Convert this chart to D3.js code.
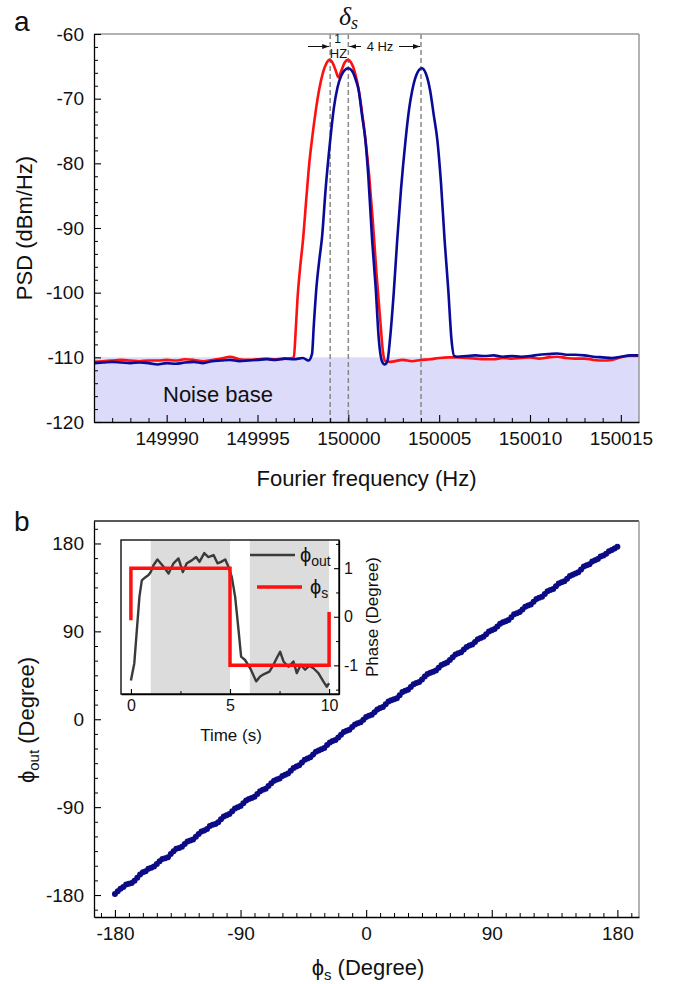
<!DOCTYPE html>
<html><head><meta charset="utf-8">
<script src="https://cdn.jsdelivr.net/npm/d3@7"></script>
<style>
body{margin:0;background:#fff;}
svg{display:block;font-family:"Liberation Sans",Arial,sans-serif;}
</style></head><body>
<svg id="c" width="678" height="984"></svg>
<script>
// ---------------- DATA: panel a ----------------
const freqDomain = [149986, 150016];
const psdDomain = [-120, -60];
const freqTicks = [149990, 149995, 150000, 150005, 150010, 150015];
const psdTicks = [-120, -110, -100, -90, -80, -70, -60];
const noiseLevel = -110;
const markerFreqs = [149999, 150000, 150004];

const redFreq = [149986.0,149986.5,149987.0,149987.5,149988.0,149988.5,149989.0,149989.5,149990.0,149990.5,149991.0,149991.5,149992.0,149992.5,149993.0,149993.5,149994.0,149994.5,149995.0,149995.5,149996.0,149996.5,149996.9,149997.0,149997.1,149997.2,149997.35,149997.5,149997.7,149997.85,149998.0,149998.2,149998.4,149998.6,149998.8,149998.95,149999.1,149999.3,149999.45,149999.6,149999.8,149999.98,150000.15,150000.35,150000.55,150000.75,150000.95,150001.15,150001.35,150001.55,150001.75,150001.9,150002.0,150002.3,150003.0,150003.5,150004.0,150004.5,150005.0,150005.5,150006.0,150006.5,150007.0,150007.5,150008.0,150008.5,150009.0,150009.5,150010.0,150010.5,150011.0,150011.5,150012.0,150012.5,150013.0,150013.5,150014.0,150014.5,150015.0,150015.5,150016.0];
const redPSD = [-110.7,-110.6,-110.5,-110.4,-110.5,-110.6,-110.5,-110.5,-110.4,-110.5,-110.3,-110.4,-110.6,-110.4,-110.2,-109.9,-110.3,-110.4,-110.3,-110.2,-110.3,-110.2,-110.1,-110.0,-106,-101,-96,-92,-85,-80,-76.3,-72,-68.5,-66,-64.5,-64.0,-64.3,-65.6,-66.7,-65.8,-64.4,-64.0,-64.4,-65.8,-68.3,-72,-76.5,-82,-89,-97,-104,-109,-110.5,-110.7,-110.4,-110.6,-110.4,-110.3,-110.1,-110.0,-110.0,-110.1,-110.2,-110.3,-110.3,-110.1,-110.2,-110.1,-110.0,-110.2,-110.0,-109.9,-110.1,-110.2,-110.2,-110.4,-110.5,-110.4,-110.0,-109.8,-109.8];

const blueFreq = [149986.0,149986.5,149987.0,149987.5,149988.0,149988.5,149989.0,149989.5,149990.0,149990.5,149991.0,149991.5,149992.0,149992.5,149993.0,149993.5,149994.0,149994.5,149995.0,149995.5,149996.0,149996.5,149997.0,149997.5,149997.8,149998.0,149998.1,149998.25,149998.4,149998.55,149998.75,149999.0,149999.2,149999.4,149999.6,149999.8,150000.0,150000.2,150000.4,150000.57,150000.75,150000.94,150001.1,150001.31,150001.5,150001.68,150001.85,150002.0,150002.15,150002.3,150002.5,150002.69,150002.9,150003.15,150003.35,150003.52,150003.75,150004.04,150004.25,150004.5,150004.7,150004.9,150005.1,150005.3,150005.5,150005.68,150005.83,150006.0,150006.5,150007.0,150007.5,150008.0,150008.5,150009.0,150009.5,150010.0,150010.5,150011.0,150011.5,150012.0,150012.5,150013.0,150013.5,150014.0,150014.5,150015.0,150015.5,150016.0];
const bluePSD = [-110.9,-110.8,-110.7,-110.8,-110.9,-110.8,-110.9,-111.1,-110.9,-111.0,-110.8,-110.7,-110.9,-110.6,-110.5,-110.4,-110.6,-110.5,-110.4,-110.3,-110.4,-110.2,-110.3,-110.1,-110.5,-109.5,-105,-99,-95,-91.5,-84,-76.5,-71.5,-68.3,-66.5,-65.6,-65.3,-65.7,-67,-68.7,-72.5,-76.4,-82,-91.9,-99,-107.3,-110.6,-111.1,-110.6,-107,-100,-91.9,-84,-76.4,-71.5,-68.7,-66.3,-65.3,-66.0,-68.7,-72.5,-76.4,-83,-91.9,-99.5,-107.3,-109.8,-109.9,-109.8,-109.7,-109.8,-109.7,-109.9,-109.8,-109.9,-109.8,-109.6,-109.5,-109.4,-109.6,-109.6,-109.7,-109.9,-110.0,-110.1,-109.9,-109.7,-109.7];

// ---------------- DATA: panel b ----------------
const phiDomainX = [-195, 195.5];
const phiDomainY = [-202.5, 203];
const phiTicks = [-180, -90, 0, 90, 180];
const phiS = [-180,-178,-176,-174,-172,-170,-168,-166,-164,-162,-160,-158,-156,-154,-152,-150,-148,-146,-144,-142,-140,-138,-136,-134,-132,-130,-128,-126,-124,-122,-120,-118,-116,-114,-112,-110,-108,-106,-104,-102,-100,-98,-96,-94,-92,-90,-88,-86,-84,-82,-80,-78,-76,-74,-72,-70,-68,-66,-64,-62,-60,-58,-56,-54,-52,-50,-48,-46,-44,-42,-40,-38,-36,-34,-32,-30,-28,-26,-24,-22,-20,-18,-16,-14,-12,-10,-8,-6,-4,-2,0,2,4,6,8,10,12,14,16,18,20,22,24,26,28,30,32,34,36,38,40,42,44,46,48,50,52,54,56,58,60,62,64,66,68,70,72,74,76,78,80,82,84,86,88,90,92,94,96,98,100,102,104,106,108,110,112,114,116,118,120,122,124,126,128,130,132,134,136,138,140,142,144,146,148,150,152,154,156,158,160,162,164,166,168,170,172,174,176,178,180];
const phiOut = [-179.0,-176.2,-173.5,-171.8,-169.2,-168.5,-167.8,-165.5,-162.2,-159.1,-156.8,-155.6,-153.2,-152.0,-150.8,-148.2,-145.4,-143.0,-142.4,-141.2,-138.1,-135.3,-132.7,-131.9,-130.6,-127.8,-125.1,-124.2,-123.1,-120.4,-117.5,-115.0,-113.8,-112.5,-109.4,-108.1,-107.2,-105.6,-102.5,-99.6,-98.4,-97.1,-94.2,-91.3,-90.0,-88.8,-86.1,-83.2,-81.6,-80.7,-79.4,-76.5,-73.7,-72.3,-71.1,-68.4,-65.5,-62.9,-61.8,-60.6,-58.0,-56.9,-55.5,-52.7,-49.8,-48.4,-47.2,-44.3,-41.4,-40.1,-38.9,-36.2,-33.4,-32.0,-30.8,-29.4,-26.5,-23.7,-22.4,-21.2,-18.6,-15.8,-13.1,-11.9,-10.7,-8.0,-5.3,-4.2,-3.0,-0.4,2.4,3.5,4.7,7.2,10.1,11.4,12.6,15.3,18.2,19.5,20.4,21.6,24.6,27.8,29.2,30.3,32.9,35.8,37.1,38.2,40.8,43.7,46.4,47.5,48.6,49.8,52.8,55.6,56.9,58.1,60.7,63.6,66.3,67.5,68.6,71.3,74.1,75.4,76.5,79.2,82.0,83.3,84.4,87.1,89.9,91.2,92.3,95.0,97.9,99.2,100.4,101.7,104.5,107.4,108.6,109.8,112.4,115.2,116.5,117.6,120.3,123.1,124.4,125.5,128.2,131.0,132.3,133.4,136.1,138.9,140.2,141.3,143.9,146.7,148.0,149.2,150.5,153.4,156.3,157.6,158.8,161.5,162.7,164.0,166.6,167.8,169.4,172.0,173.3,174.9,176.6];

// inset
const insetTimeDomain = [-0.5, 10.5];
const insetPhaseDomain = [-1.59, 1.58];
const insetTimeTicks = [0, 5, 10];
const insetPhaseTicks = [-1, 0, 1];
const shadeBands = [[1, 5], [6, 10]];
const stepTime = [0, 0, 5, 5, 10, 10];
const stepPhase = [-0.07, 1, 1, -1, -1, 0.1];
const outTime = [0,0.17,0.3,0.43,0.55,0.72,0.89,1.0,1.14,1.34,1.65,1.9,2.15,2.4,2.62,2.82,3.07,3.29,3.46,3.7,3.91,4.17,4.37,4.55,4.76,4.92,5.09,5.26,5.43,5.56,5.76,6.02,6.32,6.52,6.72,6.99,7.19,7.36,7.53,7.7,7.95,8.2,8.37,8.57,8.79,8.99,9.21,9.46,9.71,9.88,10.0];
const outPhase = [-1.31,-0.96,-0.27,0.41,0.75,0.81,0.86,0.92,1.06,1.18,1.03,0.89,1.1,1.2,0.92,1.1,1.16,1.23,1.13,1.31,1.23,1.27,1.1,1.13,1.18,1.03,0.82,0.41,-0.27,-0.82,-0.89,-1.06,-1.33,-1.23,-1.18,-1.13,-0.99,-0.85,-0.72,-0.92,-1.03,-0.92,-1.16,-0.99,-1.09,-1.01,-1.06,-1.16,-1.33,-1.44,-1.37];

// ---------------- DRAW ----------------
const svg = d3.select("#c");
const TXT = "#111";
const RED = "#ff1010", BLUE = "#0a0a9a", NAVY = "#0b0b85";

function styleAxis(g, fs) {
  g.selectAll(".domain").attr("stroke", "#000").attr("stroke-width", 1.3);
  g.selectAll(".tick line").attr("stroke", "#000").attr("stroke-width", 1.1);
  g.selectAll("text").attr("font-size", fs).attr("fill", TXT).attr("font-family", '"Liberation Sans",Arial,sans-serif');
}
function minorAxis(sel, axis) {
  sel.call(axis);
  sel.select(".domain").remove();
  sel.selectAll(".tick line").attr("stroke", "#000").attr("stroke-width", 1);
}

// ===== panel a =====
const L = 94, R = 639, Ta = 34, Ba = 422;
const xA = d3.scaleLinear().domain(freqDomain).range([L, R]);
const yA = d3.scaleLinear().domain(psdDomain).range([Ba, Ta]);

svg.append("clipPath").attr("id", "clipA").append("rect")
  .attr("x", L).attr("y", Ta).attr("width", R - L).attr("height", Ba - Ta);

svg.append("rect").attr("x", xA(freqDomain[0])).attr("y", yA(noiseLevel))
  .attr("width", xA(freqDomain[1]) - xA(freqDomain[0]))
  .attr("height", yA(psdDomain[0]) - yA(noiseLevel)).attr("fill", "#dcdcfa");

svg.append("text").attr("x", 163).attr("y", 402).attr("font-size", 22).attr("fill", TXT).text("Noise base");

svg.append("g").selectAll("line").data(markerFreqs).join("line")
  .attr("x1", d => xA(d)).attr("x2", d => xA(d)).attr("y1", Ta).attr("y2", Ba)
  .attr("stroke", "#888").attr("stroke-width", 1.5).attr("stroke-dasharray", "5,3");

const lineA = d3.line().x(d => xA(d[0])).y(d => yA(d[1])).curve(d3.curveMonotoneX);
const gA = svg.append("g").attr("clip-path", "url(#clipA)");
gA.append("path").datum(redFreq.map((f, i) => [f, redPSD[i]])).attr("d", lineA)
  .attr("fill", "none").attr("stroke", RED).attr("stroke-width", 2.6).attr("stroke-linejoin", "round");
gA.append("path").datum(blueFreq.map((f, i) => [f, bluePSD[i]])).attr("d", lineA)
  .attr("fill", "none").attr("stroke", BLUE).attr("stroke-width", 2.6).attr("stroke-linejoin", "round");

// frame top/right
svg.append("line").attr("x1", L).attr("x2", R).attr("y1", Ta).attr("y2", Ta).attr("stroke", "#999").attr("stroke-width", 1.5);
svg.append("line").attr("x1", R).attr("x2", R).attr("y1", Ta).attr("y2", Ba).attr("stroke", "#999").attr("stroke-width", 1.5);

// minor ticks
minorAxis(svg.append("g").attr("transform", `translate(${L},0)`),
  d3.axisLeft(yA).tickValues(d3.range(-118, -60, 2).filter(v => v % 10 !== 0)).tickSize(-4).tickFormat(""));
minorAxis(svg.append("g").attr("transform", `translate(0,${Ba})`),
  d3.axisBottom(xA).tickValues(d3.range(149987, 150016, 1).filter(v => v % 5 !== 0)).tickSize(-4).tickFormat(""));

const ayA = svg.append("g").attr("transform", `translate(${L},0)`)
  .call(d3.axisLeft(yA).tickValues(psdTicks).tickSize(-7).tickSizeOuter(0).tickPadding(10).tickFormat(d => String(d)));
styleAxis(ayA, 19);
const axA = svg.append("g").attr("transform", `translate(0,${Ba})`)
  .call(d3.axisBottom(xA).tickValues(freqTicks).tickSize(-7).tickSizeOuter(0).tickPadding(10).tickFormat(d => String(d)));
styleAxis(axA, 19);

svg.append("text").attr("transform", "translate(32,228) rotate(-90)").attr("text-anchor", "middle")
  .attr("font-size", 22).attr("fill", TXT).text("PSD (dBm/Hz)");
svg.append("text").attr("x", (L + R) / 2).attr("y", 486).attr("text-anchor", "middle")
  .attr("font-size", 22).attr("fill", TXT).text("Fourier frequency (Hz)");
svg.append("text").attr("x", 14).attr("y", 31).attr("font-size", 28).attr("fill", TXT).text("a");

// annotations
const defs = svg.append("defs");
defs.append("marker").attr("id", "arr").attr("viewBox", "0 0 10 10").attr("refX", 10).attr("refY", 5)
  .attr("markerWidth", 7).attr("markerHeight", 7).attr("orient", "auto-start-reverse")
  .append("path").attr("d", "M0,1.5 L10,5 L0,8.5 Z").attr("fill", "#111");
const ay = 46.5;
svg.append("line").attr("x1", 308).attr("x2", xA(149999) - 1).attr("y1", ay).attr("y2", ay)
  .attr("stroke", "#111").attr("stroke-width", 1).attr("marker-end", "url(#arr)");
svg.append("line").attr("x1", 361).attr("x2", xA(150000) + 1).attr("y1", ay).attr("y2", ay)
  .attr("stroke", "#111").attr("stroke-width", 1).attr("marker-end", "url(#arr)");
svg.append("line").attr("x1", 399).attr("x2", xA(150004) - 1).attr("y1", ay).attr("y2", ay)
  .attr("stroke", "#111").attr("stroke-width", 1).attr("marker-end", "url(#arr)");
svg.append("text").attr("x", 337.5).attr("y", 43).attr("text-anchor", "middle").attr("font-size", 12).attr("fill", TXT).text("1");
svg.append("text").attr("x", 338.5).attr("y", 58).attr("text-anchor", "middle").attr("font-size", 13).attr("fill", TXT).text("HZ");
svg.append("text").attr("x", 380).attr("y", 51).attr("text-anchor", "middle").attr("font-size", 13).attr("fill", TXT).text("4 Hz");
const dl = svg.append("text").attr("x", 339).attr("y", 25).attr("font-family", '"Liberation Serif","Times New Roman",serif')
  .attr("font-style", "italic").attr("font-size", 26).attr("fill", TXT);
dl.append("tspan").text("δ");
dl.append("tspan").attr("font-size", 18).attr("dy", 4).text("s");

// ===== panel b =====
const Tb = 521, Bb = 917;
const xB = d3.scaleLinear().domain(phiDomainX).range([L, R]);
const yB = d3.scaleLinear().domain(phiDomainY).range([Bb, Tb]);

svg.append("g").selectAll("circle").data(phiS.map((s, i) => [s, phiOut[i]])).join("circle")
  .attr("cx", d => xB(d[0])).attr("cy", d => yB(d[1])).attr("r", 3).attr("fill", NAVY);

svg.append("line").attr("x1", L).attr("x2", R).attr("y1", Tb).attr("y2", Tb).attr("stroke", "#222").attr("stroke-width", 1.5);
svg.append("line").attr("x1", R).attr("x2", R).attr("y1", Tb).attr("y2", Bb).attr("stroke", "#999").attr("stroke-width", 1.5);

minorAxis(svg.append("g").attr("transform", `translate(${L},0)`),
  d3.axisLeft(yB).tickValues(d3.range(-195, 200, 15).filter(v => v % 90 !== 0)).tickSize(-4).tickFormat(""));
minorAxis(svg.append("g").attr("transform", `translate(0,${Bb})`),
  d3.axisBottom(xB).tickValues(d3.range(-190, 195, 10).filter(v => v % 90 !== 0)).tickSize(-4).tickFormat(""));
const ayB = svg.append("g").attr("transform", `translate(${L},0)`)
  .call(d3.axisLeft(yB).tickValues(phiTicks).tickSize(-7).tickSizeOuter(0).tickPadding(10).tickFormat(d => String(d)));
styleAxis(ayB, 19);
const axB = svg.append("g").attr("transform", `translate(0,${Bb})`)
  .call(d3.axisBottom(xB).tickValues(phiTicks).tickSize(-7).tickSizeOuter(0).tickPadding(10).tickFormat(d => String(d)));
styleAxis(axB, 19);

const ylb = svg.append("text").attr("transform", "translate(34,720) rotate(-90)").attr("text-anchor", "middle")
  .attr("font-size", 22).attr("fill", TXT);
ylb.append("tspan").text("ϕ");
ylb.append("tspan").attr("font-size", 15).attr("dy", 5).text("out");
ylb.append("tspan").attr("dy", -5).text(" (Degree)");
const xlb = svg.append("text").attr("x", 368).attr("y", 975).attr("text-anchor", "middle")
  .attr("font-size", 22).attr("fill", TXT);
xlb.append("tspan").text("ϕ");
xlb.append("tspan").attr("font-size", 15).attr("dy", 5).text("s");
xlb.append("tspan").attr("dy", -5).text(" (Degree)");
svg.append("text").attr("x", 14).attr("y", 531).attr("font-size", 28).attr("fill", TXT).text("b");

// ===== inset =====
const iL = 121, iR = 339, iT = 540, iB = 694;
const xI = d3.scaleLinear().domain(insetTimeDomain).range([iL, iR]);
const yI = d3.scaleLinear().domain(insetPhaseDomain).range([iB, iT]);
svg.append("rect").attr("x", iL).attr("y", iT).attr("width", iR - iL).attr("height", iB - iT).attr("fill", "#fff");
svg.append("g").selectAll("rect").data(shadeBands).join("rect")
  .attr("x", d => xI(d[0])).attr("width", d => xI(d[1]) - xI(d[0]))
  .attr("y", iT).attr("height", iB - iT).attr("fill", "#dcdcdc");

const lineI = d3.line().x(d => xI(d[0])).y(d => yI(d[1]));
svg.append("path").datum(outTime.map((t, i) => [t, outPhase[i]])).attr("d", lineI)
  .attr("fill", "none").attr("stroke", "#3a3a3a").attr("stroke-width", 2.4).attr("stroke-linejoin", "round");
svg.append("path").datum(stepTime.map((t, i) => [t, stepPhase[i]])).attr("d", lineI)
  .attr("fill", "none").attr("stroke", "#ff1010").attr("stroke-width", 3.5);

// inset frame
svg.append("rect").attr("x", iL).attr("y", iT).attr("width", iR - iL).attr("height", iB - iT)
  .attr("fill", "none").attr("stroke", "#111").attr("stroke-width", 1.4);
minorAxis(svg.append("g").attr("transform", `translate(${iR},0)`),
  d3.axisRight(yI).tickValues([-1.5, -0.5, 0.5, 1.5]).tickSize(-3).tickFormat(""));
minorAxis(svg.append("g").attr("transform", `translate(0,${iB})`),
  d3.axisBottom(xI).tickValues([2.5, 7.5]).tickSize(-3).tickFormat(""));
const ayI = svg.append("g").attr("transform", `translate(${iR},0)`)
  .call(d3.axisRight(yI).tickValues(insetPhaseTicks).tickSize(-5).tickSizeOuter(0).tickPadding(5).tickFormat(d => String(d)));
styleAxis(ayI, 16);
const axI = svg.append("g").attr("transform", `translate(0,${iB})`)
  .call(d3.axisBottom(xI).tickValues(insetTimeTicks).tickSize(-5).tickSizeOuter(0).tickPadding(6).tickFormat(d => String(d)));
styleAxis(axI, 16);
svg.append("text").attr("x", 231).attr("y", 741).attr("text-anchor", "middle").attr("font-size", 17).attr("fill", TXT).text("Time (s)");
svg.append("text").attr("transform", "translate(378,617) rotate(-90)").attr("text-anchor", "middle")
  .attr("font-size", 17).attr("fill", TXT).text("Phase (Degree)");

// inset legend
svg.append("line").attr("x1", 250).attr("x2", 295).attr("y1", 555).attr("y2", 555).attr("stroke", "#3a3a3a").attr("stroke-width", 2.4);
const lg1 = svg.append("text").attr("x", 300).attr("y", 562).attr("font-size", 20).attr("fill", TXT);
lg1.append("tspan").text("ϕ");
lg1.append("tspan").attr("font-size", 14).attr("dy", 4).text("out");
svg.append("line").attr("x1", 257).attr("x2", 302).attr("y1", 587).attr("y2", 587).attr("stroke", "#ff1010").attr("stroke-width", 3.5);
const lg2 = svg.append("text").attr("x", 310).attr("y", 594).attr("font-size", 20).attr("fill", TXT);
lg2.append("tspan").text("ϕ");
lg2.append("tspan").attr("font-size", 14).attr("dy", 4).text("s");
</script></body></html>
